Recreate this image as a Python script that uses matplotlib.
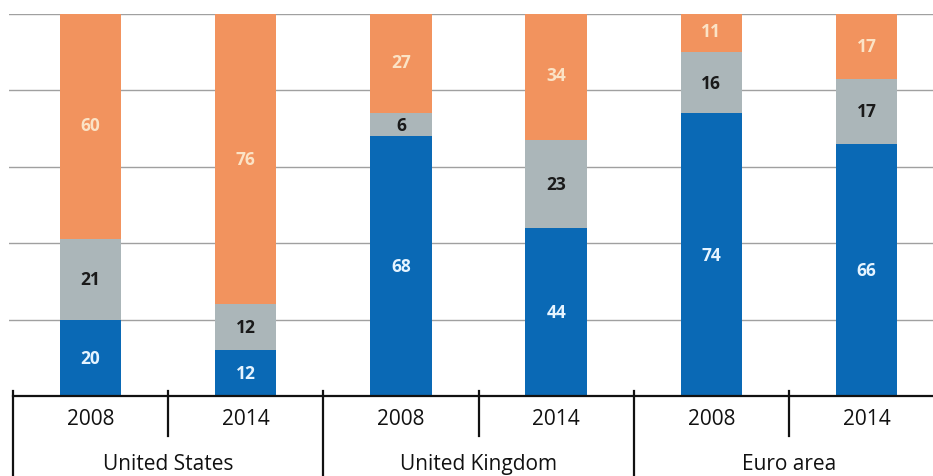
import matplotlib.pyplot as plt
from matplotlib.transforms import blended_transform_factory

regions = ['United States', 'United Kingdom', 'Euro area']
years = ['2008', '2014', '2008', '2014', '2008', '2014']

# shares in percent, stacked bottom to top
blue_vals = [20, 12, 68, 44, 74, 66]
gray_vals = [21, 12, 6, 23, 16, 17]
orange_vals = [60, 76, 27, 34, 11, 17]

BLUE = '#0a69b5'
GRAY = '#abb6b9'
ORANGE = '#f2935e'

plt.rcParams['font.family'] = ['Open Sans', 'DejaVu Sans']

fig = plt.figure(figsize=(9.33, 4.77), dpi=100)
ax = fig.add_axes([9 / 933, 80 / 477, 924 / 933, 382 / 477])

x = list(range(len(years)))
width = 0.395

bottoms2 = blue_vals
bottoms3 = [b + g for b, g in zip(blue_vals, gray_vals)]

ax.bar(x, blue_vals, width, color=BLUE, zorder=2)
ax.bar(x, gray_vals, width, bottom=bottoms2, color=GRAY, zorder=2)
ax.bar(x, orange_vals, width, bottom=bottoms3, color=ORANGE, zorder=2)

# value labels in the middle of each segment
for i in x:
    ax.text(i, blue_vals[i] / 2, str(blue_vals[i]), ha='center', va='center',
            color='#e6f4ff', fontsize=12.5, fontweight='bold', zorder=3)
    ax.text(i, bottoms2[i] + gray_vals[i] / 2, str(gray_vals[i]), ha='center',
            va='center', color='#1a1a1a', fontsize=12.5, fontweight='bold', zorder=3)
    ax.text(i, bottoms3[i] + orange_vals[i] / 2, str(orange_vals[i]), ha='center',
            va='center', color='#fbe3c6', fontsize=12.5, fontweight='bold', zorder=3)

ax.set_ylim(0, 100)
ax.set_xlim(-0.525, 5.428)
ax.set_yticks([20, 40, 60, 80, 100])
ax.yaxis.grid(True, color='#a0a0a0', linewidth=1)
ax.set_axisbelow(True)
ax.tick_params(left=False, bottom=False, labelleft=False, labelbottom=False)
for s in ax.spines.values():
    s.set_visible(False)

trans = blended_transform_factory(ax.transData, ax.transAxes)

ax.plot([-0.5, 5.428], [0, 0], color='#111111', linewidth=1.6,
        transform=trans, clip_on=False, zorder=4)

# category separators below the baseline
for k in range(len(years)):
    xs = k - 0.5
    y_end = -0.21 if k % 2 == 0 else -0.105
    ax.plot([xs, xs], [0.013, y_end], color='#111111', linewidth=1.6,
            transform=trans, clip_on=False, zorder=4)

for i, yr in enumerate(years):
    ax.text(i, -0.06, yr, transform=trans, ha='center', va='center',
            fontsize=15, color='#111111')

for j, name in enumerate(regions):
    ax.text(2 * j + 0.5, -0.178, name, transform=trans, ha='center', va='center',
            fontsize=15, color='#111111')

fig.savefig('out.png', dpi=100)
